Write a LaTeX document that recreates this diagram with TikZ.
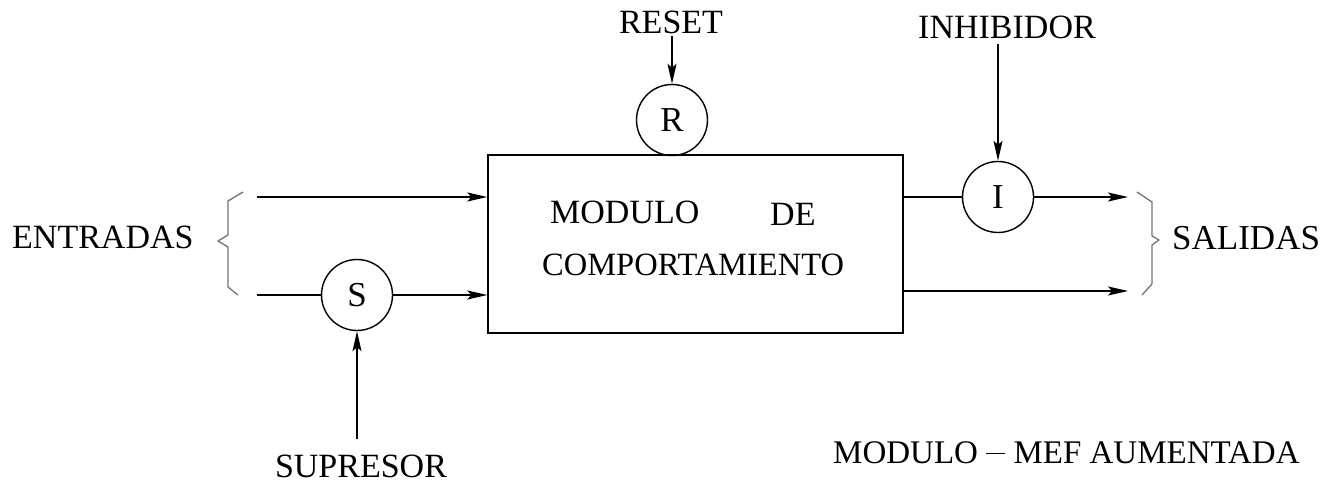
\documentclass[tikz,border=0pt]{standalone}
\usepackage{fontspec}
\setmainfont{Liberation Serif}
\usetikzlibrary{arrows.meta}
\newcommand{\dashbar}{\rule[9pt]{19pt}{1.5pt}}
\begin{document}
\begin{tikzpicture}[x=1pt,y=-1pt,
  lbl/.style={inner sep=0pt,anchor=base west,font=\fontsize{34}{38}\selectfont},
  gate/.style={circle,draw,line width=1.4pt,minimum size=71pt,inner sep=0pt,font=\fontsize{35}{38}\selectfont},
  block/.style={draw,line width=1.4pt,inner sep=0pt},
  sig/.style={line width=1.4pt,-{Stealth[length=20pt,width=9pt,inset=4pt]}},
  wire/.style={line width=1.4pt},
  brace/.style={draw=black!55,line width=1.3pt,line join=round}]
\useasboundingbox (0,0) rectangle (1332,482);

% behaviour module
\node[block,minimum width=415pt,minimum height=178pt] (mod) at (695.5,244) {};
\node[lbl] (t1) at (550,223) {MODULO};
\node[lbl] (t2) at (770,225) {DE};
\node[lbl,font=\fontsize{32.5}{36}\selectfont] (t3) at (542,275) {COMPORTAMIENTO};

% gates
\node[gate] (R) at (672,120) {R};
\node[gate] (S) at (357,295) {S};
\node[gate] (I) at (998,197) {I};

% control labels
\node[lbl,anchor=base] (reset) at (671,33) {RESET};
\node[lbl,anchor=base] (inh) at (1007,38) {INHIBIDOR};
\node[lbl,anchor=base] (sup) at (361,477) {SUPRESOR};
\node[lbl] (ent) at (12,248) {ENTRADAS};
\node[lbl,font=\fontsize{35}{38}\selectfont] (sal) at (1172,249) {SALIDAS};
\node[lbl,font=\fontsize{33}{36}\selectfont] (cap) at (833,463) {MODULO \dashbar{} MEF AUMENTADA};

% control arrows
\draw[sig] (R.north |- reset.south) ++(0,2) -- (R.north);
\draw[sig] (I.north |- inh.south) ++(0,5) -- (I.north);
\draw[sig] (S.south |- sup.north) ++(0,-15) -- (S.south);

% inputs
\coordinate (in1) at (257,197);
\coordinate (in2) at (257,295);
\draw[sig] (in1) -- (in1 -| mod.west);
\draw[wire] (in2) -- (S.west);
\draw[sig] (S.east) -- (S.east -| mod.west);

% outputs
\coordinate (out1) at (1128,197);
\coordinate (out2) at (1128,291);
\draw[wire] (out1 -| mod.east) -- (I.west);
\draw[sig] (I.east) -- (out1);
\draw[sig] (out2 -| mod.east) -- (out2);

% braces
\draw[brace] (243,192) -- (228,201) -- (228,235) -- (218,241) -- (228,247) -- (228,287) -- (238,295);
\draw[brace] (1137,192) -- (1152,202) -- (1152,236) -- (1159,240) -- (1152,245) -- (1152,284) -- (1142,295);
\end{tikzpicture}
\end{document}
